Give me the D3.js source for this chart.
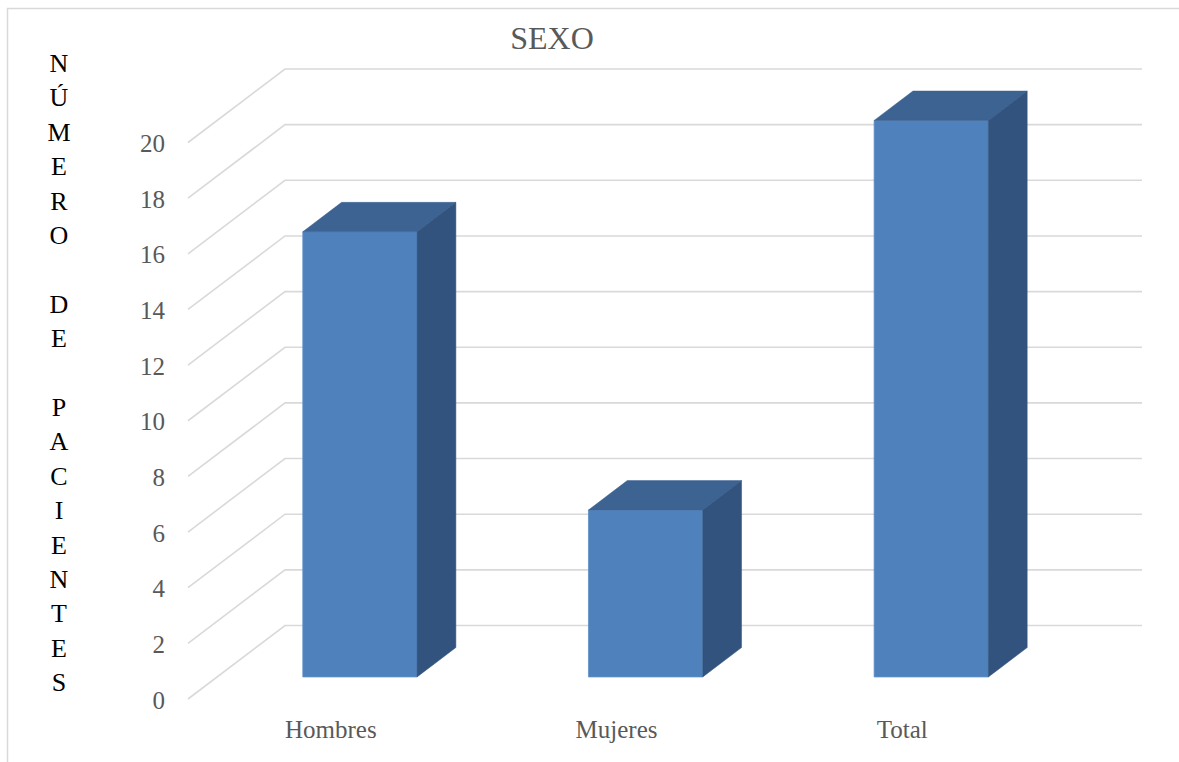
<!DOCTYPE html>
<html>
<head>
<meta charset="utf-8">
<script src="https://cdn.jsdelivr.net/npm/d3@7"></script>
<style>
  html, body { margin: 0; padding: 0; background: #ffffff; }
  svg { display: block; }
</style>
</head>
<body>
<svg id="chart" width="1179" height="762"></svg>
<script>
const title = "SEXO";
const yAxisTitle = "NÚMERO DE PACIENTES";
const categories = ["Hombres", "Mujeres", "Total"];
const values = [16, 6, 20];
const yTicks = [0, 2, 4, 6, 8, 10, 12, 14, 16, 18, 20];

const W = 1179, H = 762;
const svg = d3.select("#chart");
const FONT = "'Liberation Serif', 'DejaVu Serif', serif";

// chart border
svg.append("rect")
  .attr("x", 7.5).attr("y", 8.5)
  .attr("width", W).attr("height", H)
  .attr("fill", "none").attr("stroke", "#d9d9d9").attr("stroke-width", 1.5);

// front-plane scales
const x = d3.scaleBand().domain(categories).range([188, 1045])
  .paddingInner(0.6).paddingOuter(0.3);
const y = d3.scaleLinear().domain([0, 20]).range([699, 142.5]);

// depth offsets (t = 0 front, 1 back)
const DX = 97, DY = -73.5;
const proj = (px, v, t) => [px + DX * t, y(v) + DY * t];
const floorLeft = x.range()[0], floorRight = x.range()[1];

// gridlines
const grid = svg.append("g").attr("stroke", "#d9d9d9").attr("stroke-width", 1.6).attr("fill", "none");
yTicks.forEach(v => {
  const a = proj(floorLeft, v, 0), b = proj(floorLeft, v, 1), c = proj(floorRight, v, 1);
  grid.append("polyline").attr("points", [a, b, c].map(p => p.join(",")).join(" "));
});

// tick labels
svg.append("g").selectAll("text").data(yTicks).join("text")
  .attr("x", 165).attr("y", d => y(d) + 1)
  .attr("text-anchor", "end").attr("dominant-baseline", "central")
  .attr("font-family", FONT).attr("font-size", 25).attr("fill", "#595959")
  .text(d => d);

// bars
const T0 = 0.3, T1 = 0.7;
const cFront = "#4f81bd", cTop = "#3c6391", cSide = "#32537d";
const bars = svg.append("g");
categories.forEach((cat, i) => {
  const v = values[i];
  const x0 = x(cat), x1 = x(cat) + x.bandwidth();
  const poly = pts => pts.map(p => p.join(",")).join(" ");
  // front
  bars.append("polygon")
    .attr("points", poly([proj(x0, 0, T0), proj(x0, v, T0), proj(x1, v, T0), proj(x1, 0, T0)]))
    .attr("fill", cFront).attr("stroke", "#5f8fc7").attr("stroke-width", 0.8);
  // top
  bars.append("polygon")
    .attr("points", poly([proj(x0, v, T0), proj(x0, v, T1), proj(x1, v, T1), proj(x1, v, T0)]))
    .attr("fill", cTop).attr("stroke", cTop).attr("stroke-width", 0.5);
  // side
  bars.append("polygon")
    .attr("points", poly([proj(x1, v, T0), proj(x1, v, T1), proj(x1, 0, T1), proj(x1, 0, T0)]))
    .attr("fill", cSide).attr("stroke", cSide).attr("stroke-width", 0.5);
});

// category labels
svg.append("g").selectAll("text").data(categories).join("text")
  .attr("x", d => x(d) + x.bandwidth() / 2).attr("y", 738)
  .attr("text-anchor", "middle")
  .attr("font-family", FONT).attr("font-size", 25).attr("fill", "#595959")
  .text(d => d);

// title
svg.append("text")
  .attr("x", 552).attr("y", 49).attr("text-anchor", "middle")
  .attr("font-family", FONT).attr("font-size", 32).attr("fill", "#595959")
  .text(title);

// vertical y-axis title, one character per line
const yt = svg.append("text")
  .attr("font-family", FONT).attr("font-size", 26).attr("fill", "#000000")
  .attr("text-anchor", "middle");
Array.from(yAxisTitle).forEach((ch, i) => {
  yt.append("tspan").attr("x", 59).attr("y", 72 + i * 34.4).text(ch === " " ? "\u00a0" : ch);
});
</script>
</body>
</html>
